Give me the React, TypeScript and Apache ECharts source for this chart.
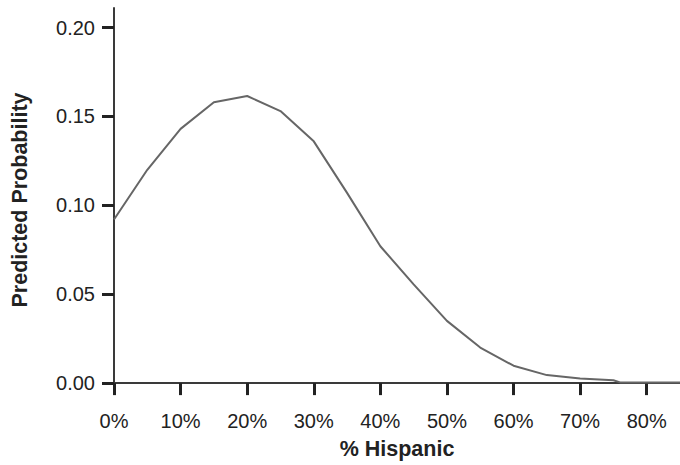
import React, { useEffect, useRef } from "react";
import * as echarts from "echarts";

const hispanicPct = [0, 5, 10, 15, 20, 25, 30, 35, 40, 45, 50, 55, 60, 65, 70, 75, 76, 85];
const predicted = [0.092, 0.12, 0.143, 0.158, 0.1615, 0.153, 0.136, 0.107, 0.077, 0.0555, 0.035, 0.02, 0.0098, 0.0045, 0.0026, 0.0016, 0.0004, 0.0004];
const xTicks = [0, 10, 20, 30, 40, 50, 60, 70, 80];
const yTicks = [0, 0.05, 0.1, 0.15, 0.2];

const FONT = "'Liberation Sans', Arial, Helvetica, sans-serif";

export default function App() {
  const ref = useRef<HTMLDivElement>(null);
  useEffect(() => {
    if (!ref.current) return;
    const chart = echarts.init(ref.current, null, { renderer: "svg" });
    chart.setOption({
      animation: false,
      backgroundColor: "#ffffff",
      grid: { left: 114, right: 0, top: 8, bottom: 70, containLabel: false },
      xAxis: {
        type: "value",
        min: 0,
        max: 85,
        name: "% Hispanic",
        nameLocation: "middle",
        nameGap: 46,
        nameTextStyle: { fontFamily: FONT, fontSize: 21.5, fontWeight: "bold", color: "#222" },
        axisLine: { show: true, lineStyle: { color: "#3a3a3a", width: 2 } },
        axisTick: { show: true, length: 12, customValues: xTicks, lineStyle: { color: "#222", width: 3 } },
        axisLabel: {
          customValues: xTicks,
          margin: 19,
          fontFamily: FONT,
          fontSize: 20,
          color: "#222",
          formatter: (v: number) => `${Math.round(v)}%`,
        },
        splitLine: { show: false },
      },
      yAxis: {
        type: "value",
        min: -0.005,
        max: 0.211,
        name: "Predicted Probability",
        nameLocation: "middle",
        nameGap: 83,
        nameTextStyle: { fontFamily: FONT, fontSize: 21.5, fontWeight: "bold", color: "#222" },
        axisLine: { show: true, lineStyle: { color: "#3a3a3a", width: 2 } },
        axisTick: { show: true, length: 12, customValues: yTicks, lineStyle: { color: "#222", width: 3 } },
        axisLabel: {
          customValues: yTicks,
          margin: 19,
          fontFamily: FONT,
          fontSize: 20,
          color: "#222",
          formatter: (v: number) => v.toFixed(2),
        },
        splitLine: { show: false },
      },
      series: [
        {
          type: "line",
          data: hispanicPct.map((x, i) => [x, predicted[i]]),
          showSymbol: false,
          smooth: false,
          lineStyle: { color: "#666", width: 2 },
        },
      ],
    });
    return () => chart.dispose();
  }, []);
  return <div ref={ref} style={{ width: 680, height: 465, position: "absolute", left: 0, top: 0 }} />;
}
